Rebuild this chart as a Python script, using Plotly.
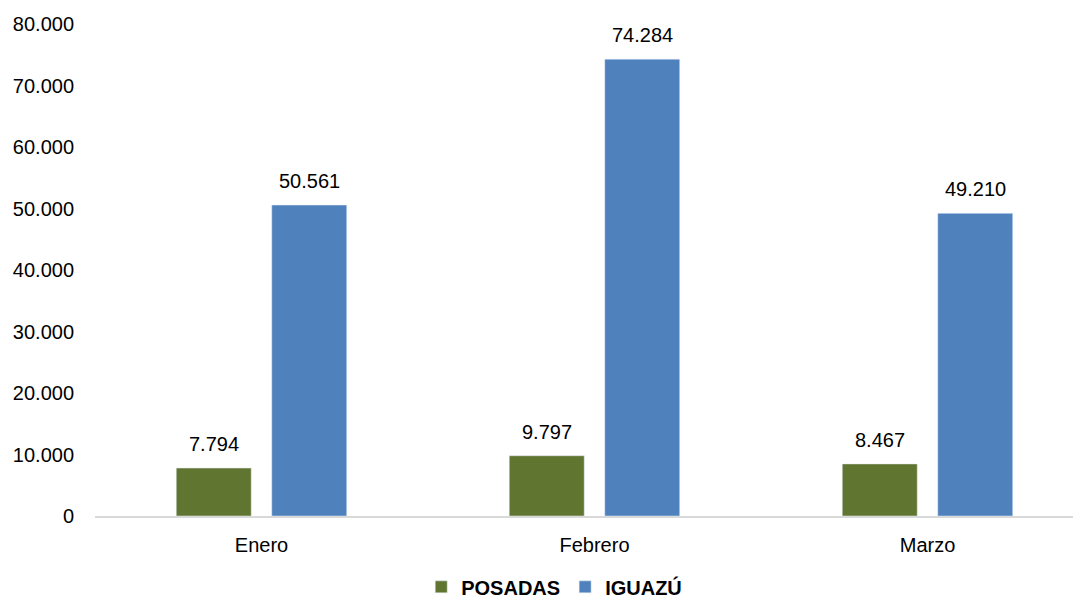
import plotly.graph_objects as go

categories = ["Enero", "Febrero", "Marzo"]
posadas = [7794, 9797, 8467]
iguazu = [50561, 74284, 49210]
y_ticks = [0, 10000, 20000, 30000, 40000, 50000, 60000, 70000, 80000]

FONT = "Liberation Sans, Arial, Helvetica, sans-serif"
GREEN = "#5F7530"
BLUE = "#4F81BD"


def fmt(v):
    return f"{v:,}".replace(",", ".")


fig = go.Figure()
fig.add_trace(go.Bar(name="POSADAS", x=categories, y=posadas, marker=dict(color=GREEN)))
fig.add_trace(go.Bar(name="IGUAZÚ", x=categories, y=iguazu, marker=dict(color=BLUE)))

annotations = []
for series, shift in ((posadas, -47.75), (iguazu, 47.75)):
    for cat, val in zip(categories, series):
        annotations.append(dict(
            x=cat, y=val, xref="x", yref="y", text=fmt(val), showarrow=False,
            xshift=shift, yshift=24, yanchor="middle", xanchor="center",
            font=dict(size=20, color="#000000", family=FONT),
        ))

fig.update_layout(
    width=1081, height=598,
    separators=",.",
    barmode="group",
    bargap=0.4264,
    bargroupgap=0.215,
    plot_bgcolor="white",
    paper_bgcolor="white",
    margin=dict(l=87, r=0, t=16, b=90, autoexpand=False),
    font=dict(family=FONT, size=20, color="#000000"),
    showlegend=True,
    annotations=annotations,
    legend=dict(
        orientation="h", x=0.462, xanchor="center", y=-0.144, yanchor="middle",
        font=dict(size=20, family=FONT, weight="bold"),
        itemwidth=30, traceorder="normal",
    ),
    xaxis=dict(
        range=[-0.5, 2.485], automargin=False,
        showgrid=False, showline=True, linecolor="#D9D9D9", linewidth=1.5,
        ticks="", tickfont=dict(size=20), ticklabelstandoff=10,
    ),
    yaxis=dict(
        range=[0, 80000], tickvals=y_ticks, tickformat=",d", automargin=False,
        showgrid=False, zeroline=False, showline=False, ticks="",
        tickfont=dict(size=20), ticklabelstandoff=20,
    ),
)

fig.write_html("out.html")
